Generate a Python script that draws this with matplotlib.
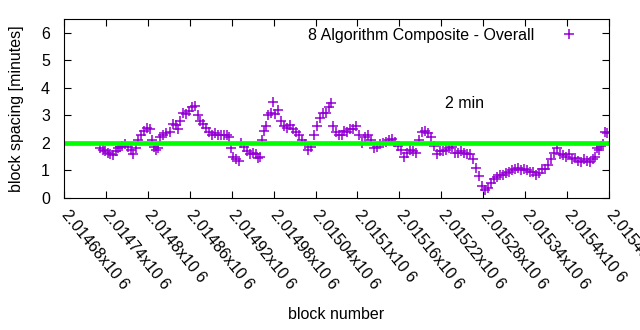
import numpy as np
import matplotlib.pyplot as plt
from matplotlib.ticker import FixedLocator, FuncFormatter

plt.rcParams['font.family'] = ['Liberation Sans', 'DejaVu Sans']

# sample positions (pixel columns), turned into block numbers
px = [100, 103, 105, 108, 110, 113, 116, 118, 120, 122, 125, 128, 131, 133, 136, 138, 141,
      144, 147, 150, 152, 154, 156, 158, 160, 163, 166, 170, 173, 176, 178, 180, 183, 186,
      189, 192, 195, 198, 200, 203, 206, 209, 212, 215, 218, 221, 224, 227, 229, 231, 233,
      236, 239, 241, 244, 247, 250, 253, 256, 258, 260, 262, 264, 266, 268, 271, 273, 275,
      278, 281, 284, 287, 290, 293, 296, 299, 302, 305, 308, 311, 314, 317, 320, 323, 326,
      329, 331, 333, 336, 339, 342, 345, 348, 351, 354, 357, 360, 363, 366, 369, 372, 375,
      378, 381, 384, 387, 390, 393, 396, 399, 402, 405, 408, 411, 414, 417, 420, 423, 426,
      429, 432, 435, 438, 441, 444, 447, 450, 453, 456, 459, 462, 465, 468, 471, 474, 477,
      480, 483, 486, 489, 492, 495, 498, 501, 504, 507, 510, 513, 516, 519, 522, 525, 528,
      531, 534, 537, 540, 543, 546, 549, 552, 555, 558, 561, 564, 567, 570, 573, 576, 579,
      582, 585, 588, 591, 594, 596, 598, 600, 602, 604, 606, 608]
block_num = [2014680 + (p - 64) * 60 / 42 for p in px]

# averaged block spacing in minutes
spacing = [1.80, 1.75, 1.70, 1.65, 1.60, 1.55, 1.70, 1.80, 1.85, 1.90, 1.95, 1.85, 1.75,
           1.60, 1.80, 2.10, 2.30, 2.45, 2.55, 2.50, 2.10, 1.85, 1.75, 1.80, 2.20, 2.30,
           2.35, 2.40, 2.70, 2.65, 2.50, 2.80, 3.10, 3.05, 3.15, 3.30, 3.35, 3.00, 2.80,
           2.70, 2.55, 2.40, 2.30, 2.35, 2.30, 2.30, 2.30, 2.30, 2.20, 1.80, 1.50, 1.40,
           1.35, 2.00, 1.85, 1.70, 1.60, 1.65, 1.60, 1.45, 1.50, 2.10, 2.45, 2.60, 3.00,
           3.10, 3.50, 3.05, 3.20, 2.80, 2.60, 2.55, 2.65, 2.50, 2.40, 2.30, 2.10, 1.95,
           1.75, 1.85, 2.30, 2.60, 2.90, 3.10, 3.10, 3.30, 3.45, 2.60, 2.40, 2.30, 2.30,
           2.45, 2.40, 2.50, 2.50, 2.60, 2.30, 2.00, 2.20, 2.30, 2.10, 1.80, 1.85, 1.95,
           2.00, 2.05, 2.10, 2.15, 2.05, 1.90, 1.75, 1.50, 1.65, 1.75, 1.70, 1.65, 2.10,
           2.40, 2.45, 2.35, 2.20, 1.90, 1.60, 1.70, 1.70, 1.75, 1.80, 1.85, 1.65, 1.65,
           1.70, 1.65, 1.60, 1.60, 1.40, 1.10, 0.80, 0.45, 0.30, 0.35, 0.55, 0.70, 0.75,
           0.85, 0.85, 0.90, 0.95, 1.00, 1.05, 1.10, 1.00, 1.05, 1.00, 0.95, 0.95, 0.85,
           0.90, 1.05, 1.05, 1.20, 1.40, 1.65, 1.80, 1.60, 1.55, 1.50, 1.60, 1.40, 1.45,
           1.35, 1.30, 1.40, 1.35, 1.30, 1.40, 1.50, 1.80, 1.75, 1.90, 1.95, 2.40, 2.35]

target = 2.0
xticks = [2014680 + 60 * k for k in range(14)]

fig = plt.figure(figsize=(6.4, 3.3), dpi=100)
ax = fig.add_axes([0.1, 0.4, 0.8516, 0.5424])

ax.plot(block_num, spacing, linestyle='none', marker='+', markersize=7,
        markeredgewidth=1.1, color='#9400d3', label='8 Algorithm Composite - Overall')
ax.axhline(target, color='#00ff00', linewidth=3.4)

ax.set_xlim(2014680, 2015460)
ax.set_ylim(0, 6.5)
ax.xaxis.set_major_locator(FixedLocator(xticks))
ax.xaxis.set_major_formatter(FuncFormatter(lambda v, p: '%.6gx10 6' % (v / 1e6)))
ax.set_yticks(range(7))
ax.tick_params(direction='in', length=5, top=True, right=True, labelsize=11.5, width=0.8)
ax.tick_params(axis='x', pad=10)
ax.tick_params(axis='y', pad=10)
for lab in ax.get_xticklabels():
    lab.set_rotation(-51)
    lab.set_ha('left')
    lab.set_va('center')
    lab.set_rotation_mode('anchor')

ax.set_xlabel('block number', fontsize=11.5, labelpad=11)
ax.set_ylabel('block spacing [minutes]', fontsize=11.5, labelpad=12)

ax.legend(loc='upper right', frameon=False, markerfirst=False, fontsize=11.5,
          handlelength=1.0, handletextpad=1.68, bbox_to_anchor=(0.968, 1.03))
ax.text(0.699, 0.53, '2 min', transform=ax.transAxes, fontsize=11.5, ha='left', va='center')

fig.savefig('out.png', dpi=100)
